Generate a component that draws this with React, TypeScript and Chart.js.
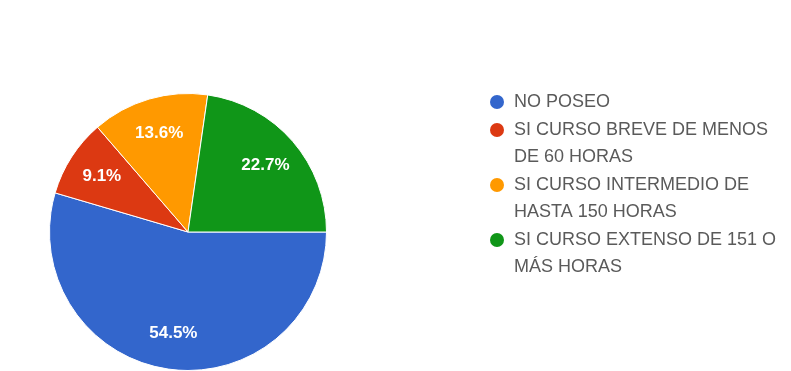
import React, { useEffect, useRef } from "react";
import { Chart, registerables } from "chart.js";

Chart.register(...registerables);

const categories: string[][] = [
  ["NO POSEO"],
  ["SI CURSO BREVE DE MENOS", "DE 60 HORAS"],
  ["SI CURSO INTERMEDIO DE", "HASTA 150 HORAS"],
  ["SI CURSO EXTENSO DE 151 O", "MÁS HORAS"],
];
const values: number[] = [54.5, 9.1, 13.6, 22.7];
const valueLabels: string[] = ["54.5%", "9.1%", "13.6%", "22.7%"];
const colors: string[] = ["#3366cc", "#dc3912", "#ff9900", "#109618"];

const W = 791;
const H = 371;

const labelPlugin = {
  id: "sliceLabels",
  afterDatasetsDraw(chart: any) {
    const ctx = chart.ctx;
    const meta = chart.getDatasetMeta(0);
    ctx.save();
    ctx.fillStyle = "#ffffff";
    ctx.font = "bold 17px 'Liberation Sans', Arial, sans-serif";
    ctx.textAlign = "center";
    ctx.textBaseline = "middle";
    meta.data.forEach((arc: any, i: number) => {
      const { x, y, startAngle, endAngle, outerRadius } = arc.getProps(
        ["x", "y", "startAngle", "endAngle", "outerRadius"],
        true
      );
      const mid = (startAngle + endAngle) / 2;
      const r = outerRadius * 0.74;
      ctx.fillText(valueLabels[i], x + Math.cos(mid) * r, y + Math.sin(mid) * r);
    });
    ctx.restore();
  },
};

const legendPlugin = {
  id: "wrapLegend",
  afterDraw(chart: any) {
    const ctx = chart.ctx;
    ctx.save();
    ctx.font = "18px 'Liberation Sans', Arial, sans-serif";
    ctx.textBaseline = "middle";
    ctx.textAlign = "left";
    const markerX = 497;
    const textX = 514;
    const lineH = 27;
    const gap = 1;
    let y = 102;
    categories.forEach((lines, i) => {
      ctx.fillStyle = colors[i];
      ctx.beginPath();
      ctx.arc(markerX, y, 7, 0, Math.PI * 2);
      ctx.fill();
      ctx.fillStyle = "#5a5a5a";
      lines.forEach((ln, j) => {
        ctx.fillText(ln, textX, y + j * lineH);
      });
      y += lines.length * lineH + gap;
    });
    ctx.restore();
  },
};

export default function App() {
  const ref = useRef<HTMLCanvasElement | null>(null);
  useEffect(() => {
    if (!ref.current) return;
    const chart = new Chart(ref.current, {
      type: "pie",
      data: {
        labels: categories.map((c) => c.join(" ")),
        datasets: [
          {
            data: values,
            backgroundColor: colors,
            borderColor: "#ffffff",
            borderWidth: 1,
          },
        ],
      },
      options: {
        responsive: false,
        animation: false,
        rotation: 90,
        layout: { padding: { left: 49, right: 464, top: 93, bottom: 0 } },
        plugins: {
          legend: { display: false },
          tooltip: { enabled: false },
        },
      },
      plugins: [labelPlugin, legendPlugin],
    });
    return () => chart.destroy();
  }, []);
  return (
    <div style={{ position: "fixed", left: 0, top: 0, width: W, height: H, background: "#fff" }}>
      <canvas ref={ref} width={W} height={H} style={{ width: W, height: H }} />
    </div>
  );
}
